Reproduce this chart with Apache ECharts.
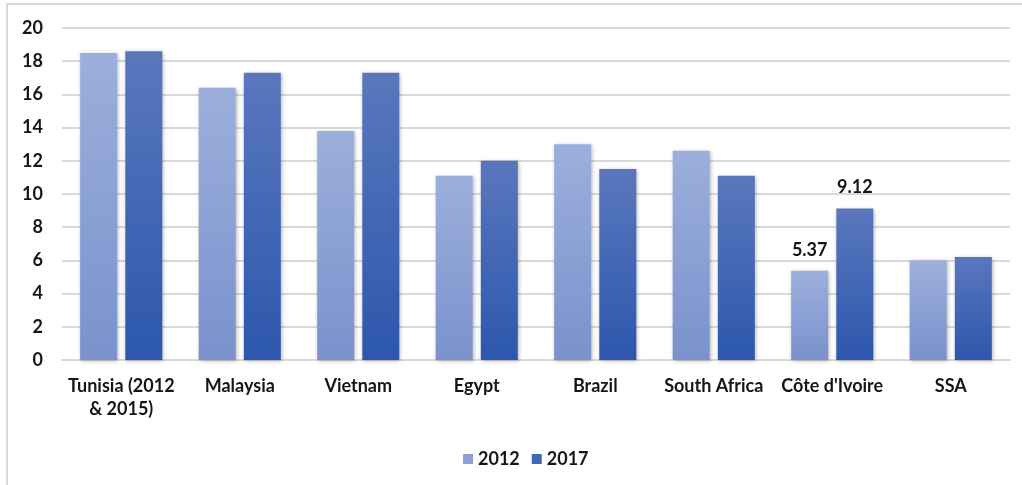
<!DOCTYPE html>
<html>
<head>
<meta charset="utf-8">
<script src="https://cdn.jsdelivr.net/npm/echarts@6/dist/echarts.min.js"></script>
<style>
  html, body { margin: 0; padding: 0; background: #fff; }
  #chart { width: 1022px; height: 485px; }
</style>
</head>
<body>
<div id="chart"></div>
<script>
// Categories and values per year
const categories = ['Tunisia (2012\n& 2015)', 'Malaysia', 'Vietnam', 'Egypt', 'Brazil', 'South Africa', "Côte d'Ivoire", 'SSA'];
const values2012 = [18.5, 16.4, 13.8, 11.1, 13.0, 12.6, 5.37, 6.0];
const values2017 = [18.6, 17.3, 17.3, 12.0, 11.5, 11.1, 9.12, 6.2];
// Only these bars carry a value label
const labelledCategories = ["Côte d'Ivoire"];
const yTicks = { min: 0, max: 20, interval: 2 };

const FONT = 'Lato, "Open Sans", sans-serif';
const TEXT = '#161616';

function grad(top, bottom) {
  return new echarts.graphic.LinearGradient(0, 0, 0, 1, [
    { offset: 0, color: top },
    { offset: 1, color: bottom }
  ]);
}

function seriesData(values, top, bottom) {
  return values.map((v, i) => ({
    value: v,
    itemStyle: { color: grad(top, bottom) },
    label: { show: labelledCategories.includes(categories[i]) }
  }));
}

const barShadow = {
  shadowBlur: 4,
  shadowColor: 'rgba(0,0,0,0.28)',
  shadowOffsetX: 1,
  shadowOffsetY: 1
};

const valueLabel = {
  position: 'top',
  distance: 12,
  fontFamily: FONT,
  fontWeight: 'bold',
  fontSize: 18,
  color: TEXT,
  formatter: p => p.value.toFixed(2)
};

const chart = echarts.init(document.getElementById('chart'), null, { renderer: 'canvas' });
chart.setOption({
  animation: false,
  backgroundColor: '#ffffff',
  graphic: [
    { type: 'line', shape: { x1: 6, y1: 4, x2: 1022, y2: 4 }, style: { stroke: '#d9d9d9', lineWidth: 2 } },
    { type: 'line', shape: { x1: 7, y1: 4, x2: 7, y2: 485 }, style: { stroke: '#d9d9d9', lineWidth: 2 } }
  ],
  grid: { left: 62, right: 12, top: 28, bottom: 125, containLabel: false },
  legend: {
    data: ['2012', '2017'],
    left: 458,
    top: 445,
    itemWidth: 10,
    itemHeight: 10,
    itemGap: 12,
    icon: 'rect',
    textStyle: { fontFamily: FONT, fontWeight: 'bold', fontSize: 18, color: TEXT }
  },
  xAxis: {
    type: 'category',
    data: categories,
    axisLine: { lineStyle: { color: '#d9d9d9', width: 2 } },
    axisTick: { show: false },
    axisLabel: {
      fontFamily: FONT,
      fontWeight: 'bold',
      fontSize: 18,
      color: TEXT,
      margin: 15,
      lineHeight: 23,
      interval: 0
    }
  },
  yAxis: {
    type: 'value',
    min: yTicks.min,
    max: yTicks.max,
    interval: yTicks.interval,
    axisLine: { show: false },
    axisTick: { show: false },
    splitLine: { lineStyle: { color: '#d9d9d9', width: 2 } },
    axisLabel: {
      fontFamily: FONT,
      fontWeight: 'bold',
      fontSize: 18,
      color: TEXT,
      margin: 19
    }
  },
  series: [
    {
      name: '2012',
      type: 'bar',
      barWidth: 37,
      barGap: '22%',
      data: seriesData(values2012, '#9cafdc', '#7a91cc'),
      itemStyle: Object.assign({ color: '#8ca1d6' }, barShadow),
      label: valueLabel
    },
    {
      name: '2017',
      type: 'bar',
      barWidth: 37,
      barGap: '22%',
      data: seriesData(values2017, '#5a77bd', '#2c57ad'),
      itemStyle: Object.assign({ color: '#4066b5' }, barShadow),
      label: valueLabel
    }
  ]
});
</script>
</body>
</html>
